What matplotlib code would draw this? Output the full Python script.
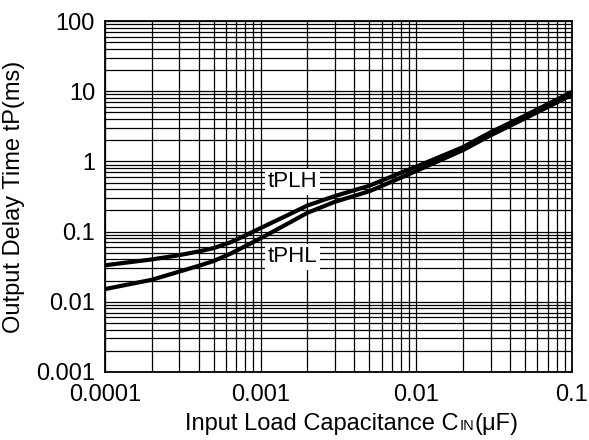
import matplotlib.pyplot as plt

plt.rcParams['font.family'] = ['Liberation Sans', 'DejaVu Sans']

# values (log-log)
cin = [1e-4, 2e-4, 3e-4, 4e-4, 5e-4, 6.5e-4, 8e-4, 1e-3, 1.5e-3, 2e-3, 3e-3, 5e-3,
       7.6e-3, 1e-2, 2e-2, 3e-2, 5e-2, 1e-1]
tplh = [0.033, 0.040, 0.046, 0.052, 0.058, 0.071, 0.088, 0.112, 0.172, 0.235, 0.32, 0.45,
        0.66, 0.84, 1.6, 2.6, 4.5, 9.8]
tphl = [0.0151, 0.0205, 0.0268, 0.0324, 0.038, 0.049, 0.062, 0.08, 0.13, 0.185, 0.265, 0.375,
        0.56, 0.73, 1.45, 2.35, 4.1, 8.9]

xticks = [1e-4, 1e-3, 1e-2, 1e-1]
xticklabels = ['0.0001', '0.001', '0.01', '0.1']
yticks = [1e-3, 1e-2, 1e-1, 1, 10, 100]
yticklabels = ['0.001', '0.01', '0.1', '1', '10', '100']

fig = plt.figure(figsize=(5.89, 4.40), dpi=100)
ax = fig.add_axes([0.178, 0.155, 0.793, 0.797])

ax.set_xscale('log')
ax.set_yscale('log')
ax.set_xlim(1e-4, 1e-1)
ax.set_ylim(1e-3, 100)

ax.grid(True, which='both', color='black', linewidth=0.9)
ax.set_axisbelow(True)

ax.plot(cin, tplh, color='black', linewidth=3, solid_joinstyle='round')
ax.plot(cin, tphl, color='black', linewidth=3, solid_joinstyle='round')

box = dict(facecolor='white', edgecolor='none', pad=2)
ax.text(0.00161, 0.51, 'tPLH', fontsize=16, ha='center', va='center', bbox=box)
ax.text(0.00161, 0.0435, 'tPHL', fontsize=16, ha='center', va='center', bbox=box)

ax.set_xticks(xticks)
ax.set_xticklabels(xticklabels)
ax.set_yticks(yticks)
ax.set_yticklabels(yticklabels)
ax.tick_params(which='both', length=0, labelsize=17)
ax.tick_params(axis='x', pad=9)
ax.tick_params(axis='y', pad=7)
for s in ax.spines.values():
    s.set_linewidth(1.3)

ax.set_ylabel('Output Delay Time tP(ms)', fontsize=17, labelpad=8)

# x label with small "IN"
fig.canvas.draw()
t1 = fig.text(185 / 589, 10 / 440, 'Input Load Capacitance C', fontsize=17,
              ha='left', va='baseline')
fig.canvas.draw()
bb = t1.get_window_extent()
t2 = fig.text(bb.x1 / 589 + 0.002, 10 / 440, 'IN', fontsize=10.5, ha='left', va='baseline')
fig.canvas.draw()
bb = t2.get_window_extent()
fig.text(bb.x1 / 589, 10 / 440, '(μF)', fontsize=17, ha='left', va='baseline')

fig.savefig('out.png', dpi=100)
